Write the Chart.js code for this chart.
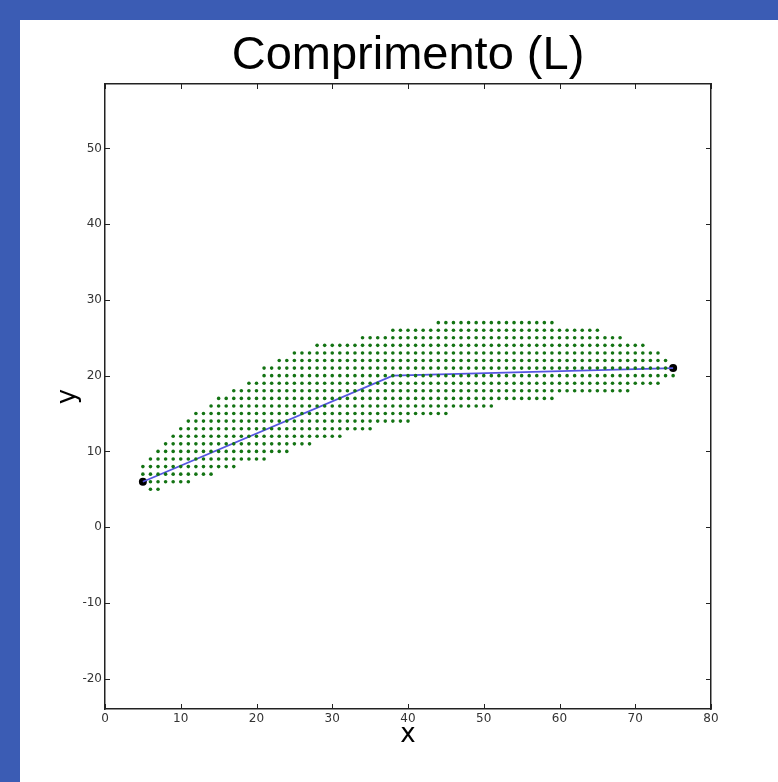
<!DOCTYPE html>
<html>
<head>
<meta charset="utf-8">
<script src="https://cdn.jsdelivr.net/npm/chart.js@4/dist/chart.umd.min.js"></script>
<style>
  body { margin: 0; background: #ffffff; }
  #wrap { position: relative; width: 778px; height: 782px; }
  .band { position: absolute; background: #3b5cb4; }
  #bandLeft { left: 0; top: 0; width: 20px; height: 782px; }
  #bandTop { left: 0; top: 0; width: 778px; height: 20px; }
  #chart { position: absolute; left: 0; top: 0; }
</style>
</head>
<body>
<div id="wrap">
  <div class="band" id="bandLeft"></div>
  <div class="band" id="bandTop"></div>
  <canvas id="chart" width="778" height="782"></canvas>
</div>
<script>
// grid rows of green points: for each y, the first and last x that has a point
const rowY      = [5, 6, 7, 8, 9, 10, 11, 12, 13, 14, 15, 16, 17, 18, 19, 20, 21, 22, 23, 24, 25, 26, 27];
const rowXStart = [6, 6, 5, 5, 6, 7, 8, 9, 10, 11, 12, 14, 15, 17, 19, 21, 21, 23, 25, 28, 34, 38, 44];
const rowXEnd   = [7, 11, 14, 17, 21, 24, 27, 31, 35, 40, 45, 51, 59, 69, 73, 75, 74, 74, 73, 71, 68, 65, 59];

// blue path and the two black end points
const pathX = [5, 38, 75];
const pathY = [6, 20, 21];
const endX = [5, 75];
const endY = [6, 21];

const xTicks = [0, 10, 20, 30, 40, 50, 60, 70, 80];
const yTicks = [-20, -10, 0, 10, 20, 30, 40, 50];

let gridPoints = [];
for (let i = 0; i < rowY.length; i++) {
    for (let x = rowXStart[i]; x <= rowXEnd[i]; x++) {
        gridPoints.push({x: x, y: rowY[i]});
    }
}
const pathPoints = pathX.map((x, i) => ({x: x, y: pathY[i]}));
const endPoints = endX.map((x, i) => ({x: x, y: endY[i]}));

// matplotlib style ticks pointing into the plot, on all four sides
const innerTicks = {
    id: 'innerTicks',
    afterDraw(chart) {
        const ctx = chart.ctx;
        const a = chart.chartArea;
        const sx = chart.scales.x, sy = chart.scales.y;
        ctx.save();
        ctx.strokeStyle = '#222';
        ctx.lineWidth = 1;
        ctx.beginPath();
        xTicks.forEach(v => {
            const px = Math.round(sx.getPixelForValue(v)) + 0.5;
            ctx.moveTo(px, a.bottom); ctx.lineTo(px, a.bottom - 5);
            ctx.moveTo(px, a.top); ctx.lineTo(px, a.top + 5);
        });
        yTicks.forEach(v => {
            const py = Math.round(sy.getPixelForValue(v)) + 0.5;
            ctx.moveTo(a.left, py); ctx.lineTo(a.left + 5, py);
            ctx.moveTo(a.right, py); ctx.lineTo(a.right - 5, py);
        });
        ctx.stroke();
        ctx.restore();
    }
};

const tickFont = {family: 'DejaVu Sans', size: 12};

new Chart(document.getElementById('chart'), {
    type: 'scatter',
    data: {
        datasets: [{
            label: 'grid',
            data: gridPoints,
            pointRadius: 1.8,
            pointBackgroundColor: '#137313',
            pointBorderWidth: 0,
            showLine: false,
        }, {
            label: 'path',
            data: pathPoints,
            showLine: true,
            borderColor: '#5555e0',
            borderWidth: 1.8,
            pointRadius: 0,
        }, {
            label: 'ends',
            data: endPoints,
            pointRadius: 4,
            pointBackgroundColor: '#000000',
            pointBorderWidth: 0,
            showLine: false,
        }]
    },
    options: {
        responsive: false,
        animation: false,
        devicePixelRatio: 1,
        layout: { padding: 0 },
        plugins: {
            legend: { display: false },
            tooltip: { enabled: false }
        },
        scales: {
            x: {
                type: 'linear',
                position: 'bottom',
                min: 0, max: 80,
                afterBuildTicks: s => { s.ticks = xTicks.map(v => ({value: v})); },
                afterFit: s => { s.height = 73; },
                ticks: { color: '#333', font: tickFont, padding: 3, maxRotation: 0 },
                grid: { display: false, drawTicks: false },
                border: { display: true, color: '#222', width: 1.5 },
                title: { display: true, text: 'x', color: '#000', font: {family: 'DejaVu Sans', size: 26, lineHeight: 1}, padding: 34 }
            },
            // top axis carries the chart title so it centres over the plot
            x2: {
                type: 'linear',
                position: 'top',
                min: 0, max: 80,
                afterFit: s => { s.height = 84; },
                ticks: { display: false },
                grid: { display: false, drawTicks: false },
                border: { display: true, color: '#222', width: 1.5 },
                title: {
                    display: true,
                    text: 'Comprimento (L)',
                    color: '#000',
                    font: {family: 'Liberation Sans', size: 47, weight: 'normal', lineHeight: 1},
                    padding: {top: 33, bottom: 0}
                }
            },
            y: {
                type: 'linear',
                position: 'left',
                min: -24, max: 58.5,
                afterBuildTicks: s => { s.ticks = yTicks.map(v => ({value: v})); },
                afterFit: s => { s.width = 105; },
                ticks: { color: '#333', font: tickFont, padding: 3 },
                grid: { display: false, drawTicks: false },
                border: { display: true, color: '#222', width: 1.5 },
                title: { display: true, text: 'y', color: '#000', font: {family: 'DejaVu Sans', size: 26, lineHeight: 1}, padding: {top: 55, bottom: 0} }
            },
            y2: {
                type: 'linear',
                position: 'right',
                min: -24, max: 58.5,
                afterFit: s => { s.width = 67; },
                ticks: { display: false },
                grid: { display: false, drawTicks: false },
                border: { display: true, color: '#222', width: 1.5 }
            }
        }
    },
    plugins: [innerTicks]
});
</script>
</body>
</html>
